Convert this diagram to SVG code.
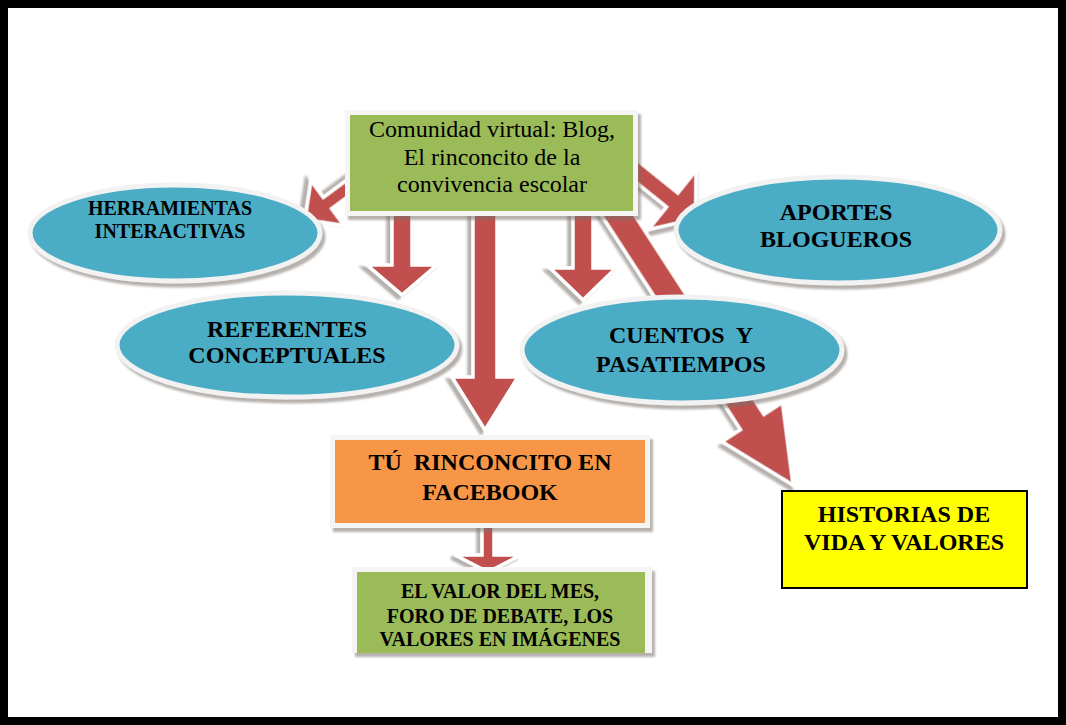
<svg xmlns="http://www.w3.org/2000/svg" width="1066" height="725" viewBox="0 0 1066 725">
<defs>
<filter id="sh" x="-20%" y="-20%" width="140%" height="140%">
<feDropShadow dx="3" dy="4" stdDeviation="1.2" flood-color="#7a6f6a" flood-opacity="0.55"/>
</filter>
<style>
.arr{fill:#C0504D;stroke:#ffffff;stroke-width:3.5;stroke-linejoin:miter;filter:url(#sh)}
.ell{fill:#4BACC6;stroke:#f2f2f2;stroke-width:5;filter:url(#sh)}
.frame{fill:#f5f5f5;filter:url(#sh)}
.t{font-family:"Liberation Serif","Times New Roman",serif;font-weight:bold;fill:#000;text-anchor:middle}
.r{font-family:"Liberation Serif","Times New Roman",serif;fill:#000;text-anchor:middle}
</style>
</defs>
<rect x="0" y="0" width="1066" height="725" fill="#ffffff"/>
<rect x="4" y="4" width="1058" height="717" fill="none" stroke="#000" stroke-width="8"/>

<g id="connectors">
<polygon class="arr" transform="translate(375,168) rotate(143.6)" points="0,-7 59,-7 59,-28 87,0 59,28 59,7 0,7"/>
<polygon class="arr" transform="translate(620,158) rotate(38.8)" points="0,-9 67,-9 67,-38 97,0 67,38 67,9 0,9"/>
<polygon class="arr" transform="translate(402,200) rotate(90)" points="0,-10 65,-10 65,-35 95,0 65,35 65,10 0,10"/>
<polygon class="arr" transform="translate(485,200) rotate(90)" points="0,-12 177,-12 177,-33 230,0 177,33 177,12 0,12"/>
<polygon class="arr" transform="translate(583,200) rotate(90)" points="0,-10 68,-10 68,-33 100,0 68,33 68,10 0,10"/>
<polygon class="arr" transform="translate(605,195) rotate(57.04)" points="0,-14 270.6,-14 270.6,-36 345.6,0 270.6,36 270.6,14 0,14"/>
<polygon class="arr" transform="translate(488,525) rotate(90)" points="0,-6 30,-6 30,-33 47,0 30,33 30,6 0,6"/>
</g>

<g id="n-blog">
<rect class="frame" x="345" y="110" width="293" height="106"/>
<rect x="350" y="115" width="283" height="96" fill="#9BBB59"/>
<text class="r" font-size="24" x="492" y="137">Comunidad virtual: Blog,</text>
<text class="r" font-size="24" x="492" y="165">El rinconcito de la</text>
<text class="r" font-size="24" x="492" y="192">convivencia escolar</text>
</g>

<g id="n-herramientas">
<ellipse class="ell" cx="175" cy="233" rx="145" ry="48"/>
<text class="t" font-size="20" x="170" y="215">HERRAMIENTAS</text>
<text class="t" font-size="20" x="170" y="238">INTERACTIVAS</text>
</g>

<g id="n-aportes">
<ellipse class="ell" cx="838" cy="230" rx="162" ry="53"/>
<text class="t" font-size="24" x="836" y="220">APORTES</text>
<text class="t" font-size="24" x="836" y="247">BLOGUEROS</text>
</g>

<g id="n-referentes">
<ellipse class="ell" cx="287" cy="345" rx="170" ry="52"/>
<text class="t" font-size="24" x="287" y="337">REFERENTES</text>
<text class="t" font-size="24" x="287" y="363">CONCEPTUALES</text>
</g>

<g id="n-cuentos">
<ellipse class="ell" cx="682" cy="350" rx="160" ry="53"/>
<text class="t" font-size="24" x="681" y="343" xml:space="preserve">CUENTOS  Y</text>
<text class="t" font-size="24" x="681" y="372">PASATIEMPOS</text>
</g>

<g id="n-facebook">
<rect class="frame" x="330" y="435" width="320" height="93"/>
<rect x="335" y="440" width="310" height="83" fill="#F79646"/>
<text class="t" font-size="24" x="490" y="470" xml:space="preserve">TÚ  RINCONCITO EN</text>
<text class="t" font-size="24" x="490" y="500">FACEBOOK</text>
</g>

<g id="n-valor">
<rect class="frame" x="352" y="567" width="300" height="86"/>
<rect x="357" y="572" width="288" height="81" fill="#9BBB59"/>
<text class="t" font-size="20" x="500" y="598">EL VALOR DEL MES,</text>
<text class="t" font-size="20" x="500" y="623">FORO DE DEBATE, LOS</text>
<text class="t" font-size="20" x="500" y="646">VALORES EN IMÁGENES</text>
</g>

<g id="n-historias">
<rect x="782" y="491" width="245" height="97" fill="#FFFF00" stroke="#000" stroke-width="2"/>
<text class="t" font-size="24" x="904" y="522">HISTORIAS DE</text>
<text class="t" font-size="24" x="904" y="550">VIDA Y VALORES</text>
</g>
</svg>
